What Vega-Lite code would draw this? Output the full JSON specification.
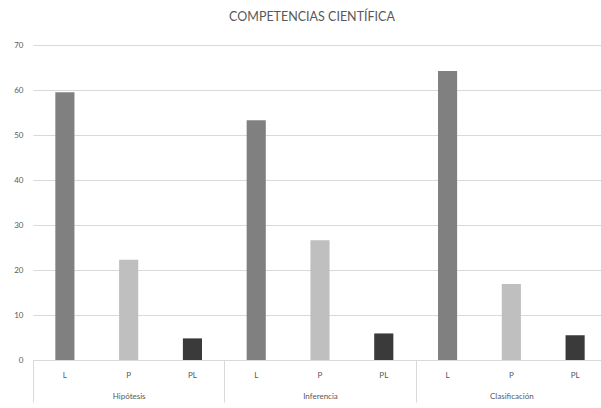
{
  "$schema": "https://vega.github.io/schema/vega-lite/v6.json",
  "width": 574,
  "height": 315,
  "padding": {"left": 5, "top": 10, "right": 0, "bottom": 0},
  "background": "white",
  "title": {
    "text": "COMPETENCIAS CIENTÍFICA",
    "font": "Lato",
    "fontSize": 12.5,
    "fontWeight": "normal",
    "color": "#595959",
    "anchor": "middle",
    "offset": 18,
    "dx": -8
  },
  "data": {
    "values": [
      {"grupo": "Hipótesis", "nivel": "L", "serie": "Hipótesis|L", "valor": 59.5},
      {"grupo": "Hipótesis", "nivel": "P", "serie": "Hipótesis|P", "valor": 22.3},
      {"grupo": "Hipótesis", "nivel": "PL", "serie": "Hipótesis|PL", "valor": 4.8},
      {"grupo": "Inferencia", "nivel": "L", "serie": "Inferencia|L", "valor": 53.3},
      {"grupo": "Inferencia", "nivel": "P", "serie": "Inferencia|P", "valor": 26.6},
      {"grupo": "Inferencia", "nivel": "PL", "serie": "Inferencia|PL", "valor": 5.9},
      {"grupo": "Clasificación", "nivel": "L", "serie": "Clasificación|L", "valor": 64.2},
      {"grupo": "Clasificación", "nivel": "P", "serie": "Clasificación|P", "valor": 16.9},
      {"grupo": "Clasificación", "nivel": "PL", "serie": "Clasificación|PL", "valor": 5.5}
    ]
  },
  "encoding": {
    "y": {
      "field": "valor",
      "type": "quantitative",
      "scale": {"domain": [0, 70]},
      "axis": {
        "title": null,
        "values": [0, 10, 20, 30, 40, 50, 60, 70],
        "domain": false,
        "ticks": false,
        "labelPadding": 10,
        "minExtent": 28,
        "maxExtent": 28,
        "labelFont": "Lato",
        "labelFontSize": 8,
        "labelColor": "#595959",
        "gridColor": "#d9d9d9",
        "gridWidth": 1
      }
    }
  },
  "layer": [
    {
      "mark": {"type": "bar"},
      "encoding": {
        "x": {
          "field": "serie",
          "type": "nominal",
          "sort": null,
          "scale": {"paddingInner": 0.7, "paddingOuter": 0.35},
          "axis": {
            "orient": "bottom",
            "title": null,
            "labelExpr": "split(datum.label, '|')[1]",
            "labelAngle": 0,
            "ticks": false,
            "domain": true,
            "domainColor": "#d9d9d9",
            "labelPadding": 11,
            "labelFont": "Lato",
            "labelFontSize": 8,
            "labelColor": "#595959"
          }
        },
        "color": {
          "field": "nivel",
          "type": "nominal",
          "scale": {"domain": ["L", "P", "PL"], "range": ["#808080", "#bfbfbf", "#3a3a3a"]},
          "legend": null
        }
      }
    },
    {
      "mark": {"type": "point", "opacity": 0},
      "encoding": {
        "x": {
          "field": "grupo",
          "type": "nominal",
          "sort": null,
          "scale": {"paddingInner": 0, "paddingOuter": 0},
          "axis": {
            "orient": "bottom",
            "title": null,
            "labelAngle": 0,
            "domain": false,
            "tickBand": "extent",
            "tickSize": 42,
            "tickColor": "#d9d9d9",
            "labelPadding": -10,
            "labelFont": "Lato",
            "labelFontSize": 8,
            "labelColor": "#595959"
          }
        }
      }
    },
    {
      "mark": {"type": "point", "opacity": 0},
      "encoding": {
        "x": {
          "field": "grupo",
          "type": "nominal",
          "sort": null,
          "axis": {
            "orient": "bottom",
            "title": null,
            "offset": 47,
            "labels": false,
            "ticks": false,
            "domain": true,
            "domainColor": "#e3e3e3"
          }
        }
      }
    }
  ],
  "resolve": {"scale": {"x": "independent"}, "axis": {"x": "independent"}},
  "config": {"view": {"stroke": null}}
}
